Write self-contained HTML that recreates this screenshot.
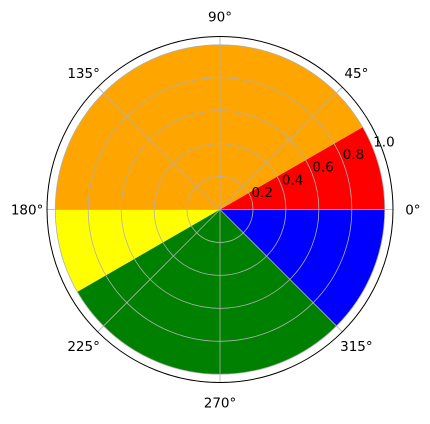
<!DOCTYPE html>
<html><head><meta charset="utf-8"><style>
body{margin:0;background:#fff}
svg text{font-family:"DejaVu Sans","Liberation Sans",sans-serif;font-size:13.5px;fill:#000}
</style></head><body>
<svg id="c" width="430" height="419"></svg>
<script>
const starts=[0,30,180,210,315];
const ends=[30,180,210,315,360];
const radii=[1.0,1.0,1.0,1.0,1.0];
const colors=['red','orange','yellow','green','blue'];
const rTicks=[0.2,0.4,0.6,0.8,1.0];
const aTicks=[0,45,90,135,180,225,270,315];
const rMax=1.05;
const cx=220,cy=209.5,R=173;
const svg=document.getElementById('c');
const NS='http://www.w3.org/2000/svg';
function rs(v){return v/rMax*R;}
function pt(a,r){const t=a*Math.PI/180;return [cx+rs(r)*Math.cos(t),cy-rs(r)*Math.sin(t)];}
function mk(tag,at){const e=document.createElementNS(NS,tag);for(const k in at)e.setAttribute(k,at[k]);svg.appendChild(e);return e;}
for(let i=0;i<starts.length;i++){
  const p1=pt(starts[i],radii[i]),p2=pt(ends[i],radii[i]);
  const large=(ends[i]-starts[i])>180?1:0;
  const e=mk('path',{d:`M${cx},${cy}L${p1[0]},${p1[1]}A${rs(radii[i])},${rs(radii[i])} 0 ${large} 0 ${p2[0]},${p2[1]}Z`,fill:colors[i]});
  
  
}
rTicks.forEach(v=>{
  const e=mk('circle',{cx,cy,r:rs(v),fill:'none',stroke:'#b0b0b0','stroke-width':0.8});
  
  
  const p=pt(22.5,v);
  const t=mk('text',{x:p[0]+1,y:p[1]}); t.textContent=v.toFixed(1);
  
  
});
aTicks.forEach(a=>{
  const p=pt(a,rMax);
  const l=mk('line',{x1:cx,y1:cy,x2:p[0],y2:p[1],stroke:'#b0b0b0','stroke-width':0.8});
  
  
  const q=pt(a,rMax*1.115);
  const t=mk('text',{x:q[0],y:q[1]+5,'text-anchor':'middle'});t.textContent=a+'°';
  
  
});
const o=mk('circle',{cx,cy,r:R,fill:'none',stroke:'#000','stroke-width':1});


</script>
</body></html>
